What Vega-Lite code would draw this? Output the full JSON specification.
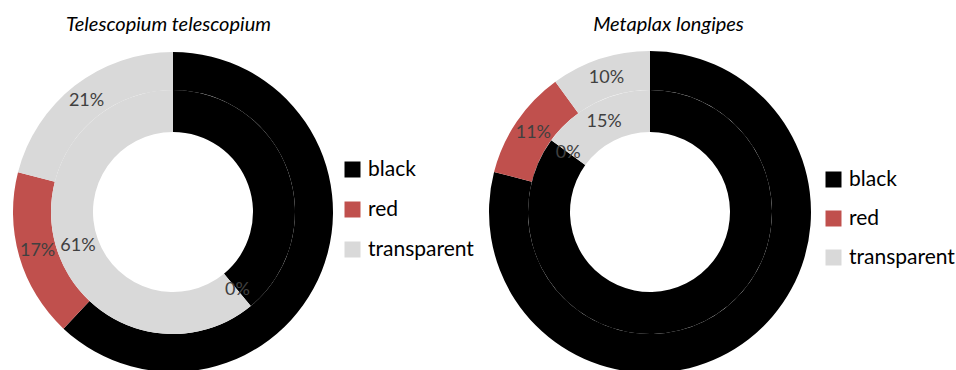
{
  "$schema": "https://vega.github.io/schema/vega-lite/v6.json",
  "autosize": "none",
  "width": 956,
  "height": 354,
  "padding": {"top": 35, "left": 0, "right": 0, "bottom": 0},
  "background": "white",
  "config": {"view": {"stroke": null}, "font": "Lato"},
  "data": {"values": [
    {"species": "Telescopium telescopium", "ring": "outer", "colour": "black", "share": 0.62},
    {"species": "Telescopium telescopium", "ring": "outer", "colour": "red", "share": 0.17},
    {"species": "Telescopium telescopium", "ring": "outer", "colour": "transparent", "share": 0.21},
    {"species": "Telescopium telescopium", "ring": "inner", "colour": "black", "share": 0.39},
    {"species": "Telescopium telescopium", "ring": "inner", "colour": "red", "share": 0.0},
    {"species": "Telescopium telescopium", "ring": "inner", "colour": "transparent", "share": 0.61},
    {"species": "Metaplax longipes", "ring": "outer", "colour": "black", "share": 0.79},
    {"species": "Metaplax longipes", "ring": "outer", "colour": "red", "share": 0.11},
    {"species": "Metaplax longipes", "ring": "outer", "colour": "transparent", "share": 0.10},
    {"species": "Metaplax longipes", "ring": "inner", "colour": "black", "share": 0.85},
    {"species": "Metaplax longipes", "ring": "inner", "colour": "red", "share": 0.0},
    {"species": "Metaplax longipes", "ring": "inner", "colour": "transparent", "share": 0.15}
  ]},
  "encoding": {
    "x": {
      "field": "species", "type": "nominal",
      "scale": {"type": "point", "domain": ["Telescopium telescopium", "Metaplax longipes"], "range": [173, 650], "padding": 0},
      "axis": {"orient": "top", "title": null, "domain": false, "ticks": false, "labelFontSize": 20, "labelFontStyle": "italic", "labelFontWeight": "normal", "labelPadding": 1, "labelColor": "#000000", "labelAngle": 0, "labelLimit": 0,
        "labelOffset": {"condition": {"test": "datum.value === 'Metaplax longipes'", "value": 18}, "value": -5}}
    }
  },
  "layer": [
    {
      "transform": [{"filter": "datum.species === 'Telescopium telescopium'"}],
      "layer": [
        {
          "transform": [{"filter": "datum.ring === 'outer'"}],
          "mark": {"type": "arc", "radius": 160, "radius2": 122},
          "encoding": {
            "theta": {"field": "share", "type": "quantitative", "stack": true, "scale": {"domain": [0, 1]}},
            "order": {"field": "colour", "type": "ordinal", "sort": "ascending"},
            "color": {"field": "colour", "type": "nominal", "scale": {"domain": ["black", "red", "transparent"], "range": ["#000000", "#c0504d", "#d9d9d9"]},
              "legend": {"title": null, "orient": "none", "legendX": 342, "legendY": 124, "symbolType": "square", "symbolSize": 256, "labelFontSize": 21, "labelColor": "#000000", "rowPadding": 18, "labelOffset": 5}}
          }
        },
        {
          "transform": [{"filter": "datum.ring === 'inner'"}],
          "mark": {"type": "arc", "radius": 122, "radius2": 80},
          "encoding": {
            "theta": {"field": "share", "type": "quantitative", "stack": true, "scale": {"domain": [0, 1]}},
            "order": {"field": "colour", "type": "ordinal", "sort": "ascending"},
            "color": {"field": "colour", "type": "nominal", "scale": {"domain": ["black", "red", "transparent"], "range": ["#000000", "#c0504d", "#d9d9d9"]},
              "legend": {"title": null, "orient": "none", "legendX": 342, "legendY": 124, "symbolType": "square", "symbolSize": 256, "labelFontSize": 21, "labelColor": "#000000", "rowPadding": 18, "labelOffset": 5}}
          }
        },
        {
          "transform": [{"filter": "datum.ring === 'outer'"}],
          "mark": {"type": "text", "radius": 141, "fontSize": 18, "color": "#404040"},
          "encoding": {
            "theta": {"field": "share", "type": "quantitative", "stack": true, "scale": {"domain": [0, 1]}},
            "order": {"field": "colour", "type": "ordinal", "sort": "ascending"},
            "detail": {"field": "colour", "type": "nominal"},
            "text": {"field": "share", "type": "quantitative", "format": ".0%"},
            "opacity": {"condition": {"test": "datum.colour === 'black'", "value": 0}, "value": 1}
          }
        },
        {
          "transform": [{"filter": "datum.ring === 'inner'"}],
          "mark": {"type": "text", "radius": 101, "fontSize": 18, "color": "#404040"},
          "encoding": {
            "theta": {"field": "share", "type": "quantitative", "stack": true, "scale": {"domain": [0, 1]}},
            "order": {"field": "colour", "type": "ordinal", "sort": "ascending"},
            "detail": {"field": "colour", "type": "nominal"},
            "text": {"field": "share", "type": "quantitative", "format": ".0%"},
            "opacity": {"condition": {"test": "datum.colour === 'black'", "value": 0}, "value": 1}
          }
        }
      ]
    },
    {
      "transform": [{"filter": "datum.species === 'Metaplax longipes'"}],
      "layer": [
        {
          "transform": [{"filter": "datum.ring === 'outer'"}],
          "mark": {"type": "arc", "radius": 161, "radius2": 122},
          "encoding": {
            "theta": {"field": "share", "type": "quantitative", "stack": true, "scale": {"domain": [0, 1]}},
            "order": {"field": "colour", "type": "ordinal", "sort": "ascending"},
            "color": {"field": "colour", "type": "nominal", "scale": {"domain": ["black", "red", "transparent"], "range": ["#000000", "#c0504d", "#d9d9d9"]},
              "legend": {"title": null, "orient": "none", "legendX": 823, "legendY": 134, "symbolType": "square", "symbolSize": 256, "labelFontSize": 21, "labelColor": "#000000", "rowPadding": 17, "labelOffset": 5}}
          }
        },
        {
          "transform": [{"filter": "datum.ring === 'inner'"}],
          "mark": {"type": "arc", "radius": 122, "radius2": 80},
          "encoding": {
            "theta": {"field": "share", "type": "quantitative", "stack": true, "scale": {"domain": [0, 1]}},
            "order": {"field": "colour", "type": "ordinal", "sort": "ascending"},
            "color": {"field": "colour", "type": "nominal", "scale": {"domain": ["black", "red", "transparent"], "range": ["#000000", "#c0504d", "#d9d9d9"]},
              "legend": {"title": null, "orient": "none", "legendX": 823, "legendY": 134, "symbolType": "square", "symbolSize": 256, "labelFontSize": 21, "labelColor": "#000000", "rowPadding": 17, "labelOffset": 5}}
          }
        },
        {
          "transform": [{"filter": "datum.ring === 'outer'"}],
          "mark": {"type": "text", "radius": 141, "fontSize": 18, "color": "#404040"},
          "encoding": {
            "theta": {"field": "share", "type": "quantitative", "stack": true, "scale": {"domain": [0, 1]}},
            "order": {"field": "colour", "type": "ordinal", "sort": "ascending"},
            "detail": {"field": "colour", "type": "nominal"},
            "text": {"field": "share", "type": "quantitative", "format": ".0%"},
            "opacity": {"condition": {"test": "datum.colour === 'black'", "value": 0}, "value": 1}
          }
        },
        {
          "transform": [{"filter": "datum.ring === 'inner'"}],
          "mark": {"type": "text", "radius": 101, "fontSize": 18, "color": "#404040"},
          "encoding": {
            "theta": {"field": "share", "type": "quantitative", "stack": true, "scale": {"domain": [0, 1]}},
            "order": {"field": "colour", "type": "ordinal", "sort": "ascending"},
            "detail": {"field": "colour", "type": "nominal"},
            "text": {"field": "share", "type": "quantitative", "format": ".0%"},
            "opacity": {"condition": {"test": "datum.colour === 'black'", "value": 0}, "value": 1}
          }
        }
      ]
    }
  ],
  "resolve": {"scale": {"color": "independent"}}
}
